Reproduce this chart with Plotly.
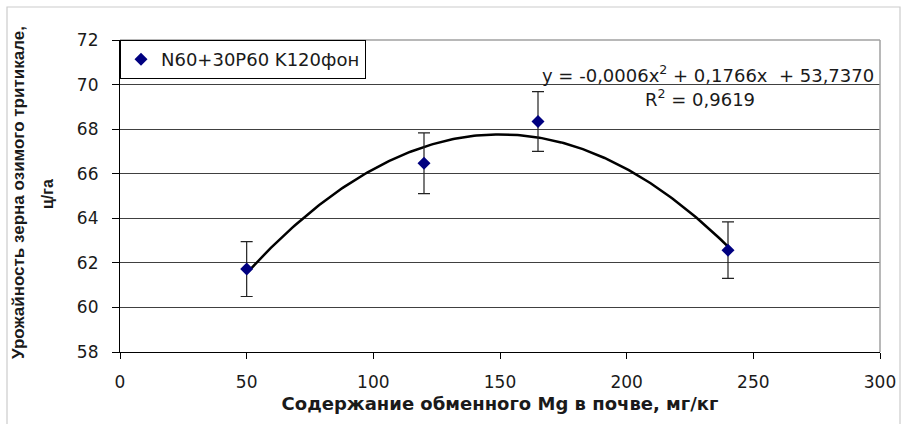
import numpy as np
import plotly.graph_objects as go

# Data
mg_content = [50, 120, 165, 240]
yield_values = [61.72, 66.47, 68.34, 62.57]
error_values = [1.23, 1.36, 1.34, 1.27]
series_name = "N60+30P60 K120фон"
equation_text = "y = -0,0006x<sup>2</sup> + 0,1766x  + 53,7370"
r2_text = "R<sup>2</sup> = 0,9619"
x_title = "Содержание обменного Mg в почве, мг/кг"
y_title_line1 = "Урожайность зерна озимого тритикале,"
y_title_line2 = "ц/га"

# polynomial trendline (order 2) fitted from the data
coef = np.polyfit(mg_content, yield_values, 2)
xs = np.linspace(min(mg_content), max(mg_content), 200)
ys = np.polyval(coef, xs)

FONT = "DejaVu Sans, Verdana, sans-serif"
BFONT = "Liberation Sans, Arial, sans-serif"

fig = go.Figure()
fig.add_trace(go.Scatter(
    x=xs, y=ys, mode="lines",
    line=dict(color="black", width=2.5),
    showlegend=False, hoverinfo="skip"))
fig.add_trace(go.Scatter(
    x=mg_content, y=yield_values, mode="markers", name=series_name,
    marker=dict(symbol="diamond", size=10, color="#000080"),
    error_y=dict(type="data", array=error_values, visible=True,
                 color="#222222", thickness=1.2, width=6)))

fig.update_layout(
    width=902, height=424,
    margin=dict(l=120, r=22, t=40, b=72, autoexpand=False),
    paper_bgcolor="white", plot_bgcolor="white",
    font=dict(family=FONT, size=17, color="#1a1a1a"),
    legend=dict(x=0.0, y=1.0, xanchor="left", yanchor="top",
                bgcolor="white", bordercolor="black", borderwidth=1,
                font=dict(size=18), itemwidth=30, tracegroupgap=0),
    xaxis=dict(range=[0, 300], dtick=50, showgrid=False,
               showline=True, linecolor="black", linewidth=1.2,
               ticks="outside", ticklen=6, tickcolor="black",
               ticklabelstandoff=8, automargin=False,
               title=dict(text="<b>" + x_title + "</b>",
                          font=dict(size=18, family=FONT), standoff=6),
               zeroline=False, mirror=False),
    yaxis=dict(range=[58, 72], dtick=2, showgrid=True, gridcolor="#404040", gridwidth=1.3,
               showline=True, linecolor="black", linewidth=1.2,
               ticks="outside", ticklen=7, tickcolor="black",
               ticklabelstandoff=10, automargin=False,
               zeroline=False),
)

# y-axis title as two rotated lines
fig.add_annotation(xref="paper", yref="paper", x=(18 - 120) / 760, y=(352 - 193) / 312,
                   text="<b>" + y_title_line1 + "</b>", textangle=-90, showarrow=False,
                   xanchor="center", yanchor="middle",
                   font=dict(size=17, family=BFONT, color="#1a1a1a"))
fig.add_annotation(xref="paper", yref="paper", x=(47 - 120) / 760, y=(352 - 194) / 312,
                   text="<b>" + y_title_line2 + "</b>", textangle=-90, showarrow=False,
                   xanchor="center", yanchor="middle",
                   font=dict(size=16, family=BFONT, color="#1a1a1a"))

# plot area border (right/top) in light gray
fig.add_shape(type="line", xref="paper", yref="paper", x0=0, x1=1, y0=1, y1=1,
              line=dict(color="#a0a0a0", width=1.5))
fig.add_shape(type="line", xref="paper", yref="paper", x0=1, x1=1, y0=0, y1=1,
              line=dict(color="#a0a0a0", width=1.5))
# outer chart border
fig.add_shape(type="rect", xref="paper", yref="paper",
              x0=(7 - 120) / 760, x1=(900 - 120) / 760,
              y0=(352 - 440) / 312, y1=(352 - 7) / 312,
              line=dict(color="#cccccc", width=1.2), layer="below")

fig.add_annotation(xref="paper", yref="paper", x=0.995, y=(352 - 74) / 312,
                   text=equation_text, showarrow=False, xanchor="right", yanchor="middle",
                   font=dict(size=18, family=FONT))
fig.add_annotation(xref="paper", yref="paper", x=(700 - 120) / 760, y=(352 - 98) / 312,
                   text=r2_text, showarrow=False, xanchor="center", yanchor="middle",
                   font=dict(size=18, family=FONT))

fig.write_html("out.html")
